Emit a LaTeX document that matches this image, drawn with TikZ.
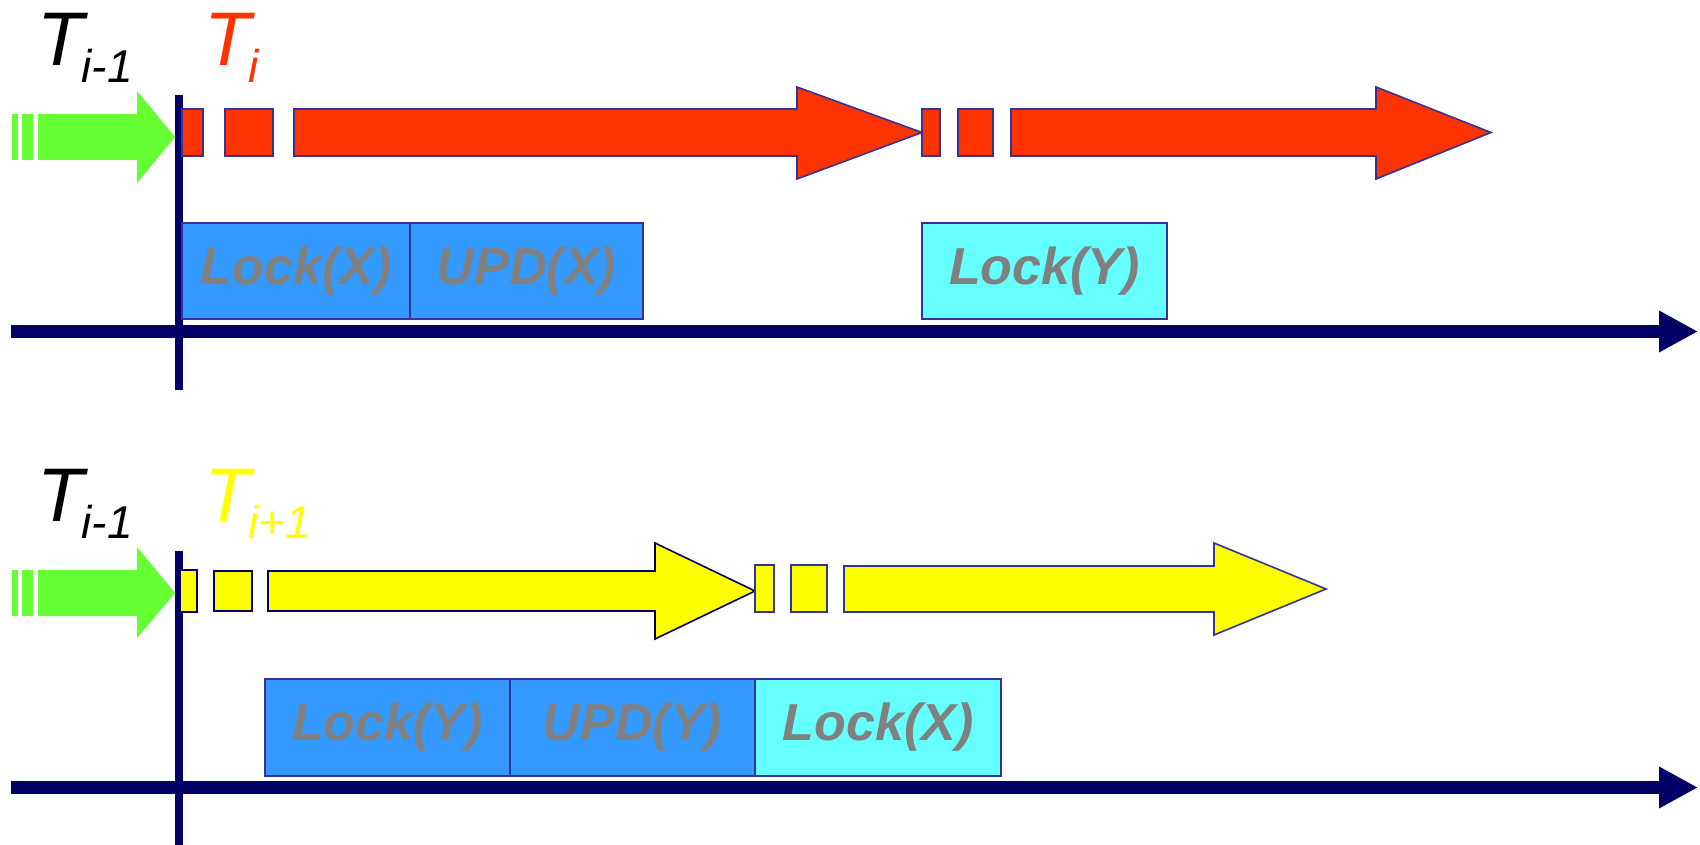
\documentclass[tikz,border=0pt]{standalone}
\usepackage{fontspec}
\setmainfont{Liberation Sans}
\usetikzlibrary{arrows.meta}
\definecolor{navy}{HTML}{000066}
\definecolor{edgeblue}{HTML}{333399}
\definecolor{tred}{HTML}{FF3300}
\definecolor{tyellow}{HTML}{FFFF00}
\definecolor{tgreen}{HTML}{66FF33}
\definecolor{lockblue}{HTML}{3399FF}
\definecolor{lockcyan}{HTML}{66FFFF}
\definecolor{txtgray}{HTML}{808080}
\tikzset{
  seg/.style={draw=edgeblue, line width=1.6pt, line join=miter},
  redseg/.style={seg, fill=tred},
  yelseg/.style={seg, fill=tyellow},
  yelsegdark/.style={yelseg, draw=navy},
  greenseg/.style={fill=tgreen},
  opbox/.style={draw=edgeblue, line width=1.6pt, rectangle, inner sep=0pt, text=txtgray,
    font=\fontsize{52}{52}\selectfont\bfseries\itshape},
  lockbox/.style={opbox, fill=lockblue},
  waitbox/.style={opbox, fill=lockcyan},
  timeaxis/.style={navy, line width=13pt, -{Triangle[length=39pt,width=39pt]}},
  marker/.style={navy, line width=8pt},
  tlabel/.style={anchor=base west, inner sep=0pt, font=\fontsize{76}{76}\selectfont\itshape},
}
\newcommand{\subtxt}[1]{\hspace{-2pt}\raisebox{-17pt}{\fontsize{46}{46}\selectfont #1}}
\begin{document}
\begin{tikzpicture}[x=1pt,y=-1pt]
\useasboundingbox (0,0) rectangle (1700,845);

% ---------- top row ----------
\coordinate (m1t) at (179,95);
\coordinate (m1b) at (179,390);
\draw[marker] (m1t) -- (m1b);

% green incoming arrow
\fill[greenseg] (12,114) rectangle (18,160);
\fill[greenseg] (22,114) rectangle (33,160);
\fill[greenseg] (38,114) -- (137,114) -- (137,91) -- (175,137) -- (137,183) -- (137,160) -- (38,160) -- cycle;

% red transaction
\draw[redseg] (182,109) rectangle (203,156);
\draw[redseg] (225,109) rectangle (273,156);
\draw[redseg] (294,109) -- (797,109) -- (797,87) -- (922,132.5) -- (797,179) -- (797,156) -- (294,156) -- cycle;
\draw[redseg] (922,109) rectangle (940,156);
\draw[redseg] (958,109) rectangle (993,156);
\draw[redseg] (1011,109) -- (1376,109) -- (1376,87) -- (1491,132.5) -- (1376,179) -- (1376,156) -- (1011,156) -- cycle;

\node[lockbox, minimum width=228pt, minimum height=96pt] (lx1) at (296,271) {Lock(X)};
\node[lockbox, minimum width=233pt, minimum height=96pt] (ux1) at (526.5,271) {UPD(X)};
\node[waitbox, minimum width=245pt, minimum height=96pt] (ly1) at (1044.5,271) {Lock(Y)};

\coordinate (a1s) at (11,331.5);
\coordinate (a1e) at (1698,331.5);
\draw[timeaxis] (a1s) -- (a1e);

\node[tlabel] (tprev1) at (37,66) {T\subtxt{i-1}};
\node[tlabel, text=tred] (ti) at (204,66) {T\subtxt{i}};

% ---------- bottom row ----------
\coordinate (m2t) at (179,551);
\coordinate (m2b) at (179,845);
\draw[marker] (m2t) -- (m2b);

\fill[greenseg] (12,570) rectangle (18,616);
\fill[greenseg] (22,570) rectangle (33,616);
\fill[greenseg] (38,570) -- (137,570) -- (137,547) -- (175,593) -- (137,638) -- (137,616) -- (38,616) -- cycle;

\draw[yelsegdark] (180,570) rectangle (197,612);
\draw[yelsegdark] (214,571) rectangle (252,611);
\draw[yelsegdark] (268,571) -- (655,571) -- (655,543) -- (755,591) -- (655,639) -- (655,611) -- (268,611) -- cycle;
\draw[yelseg] (755,565) rectangle (774,612);
\draw[yelseg] (791,565) rectangle (827,612);
\draw[yelseg] (844,566) -- (1214,566) -- (1214,543) -- (1326,589) -- (1214,635) -- (1214,612) -- (844,612) -- cycle;

\node[lockbox, minimum width=245pt, minimum height=97pt] (ly2) at (387.5,727.5) {Lock(Y)};
\node[lockbox, minimum width=245pt, minimum height=97pt] (uy2) at (632.5,727.5) {UPD(Y)};
\node[waitbox, minimum width=246pt, minimum height=97pt] (lx2) at (878,727.5) {Lock(X)};

\coordinate (a2s) at (11,787.5);
\coordinate (a2e) at (1698,787.5);
\draw[timeaxis] (a2s) -- (a2e);

\node[tlabel] (tprev2) at (37,521.5) {T\subtxt{i-1}};
\node[tlabel, text=tyellow] (tnext) at (204,521.5) {T\subtxt{i+1}};
\end{tikzpicture}
\end{document}
